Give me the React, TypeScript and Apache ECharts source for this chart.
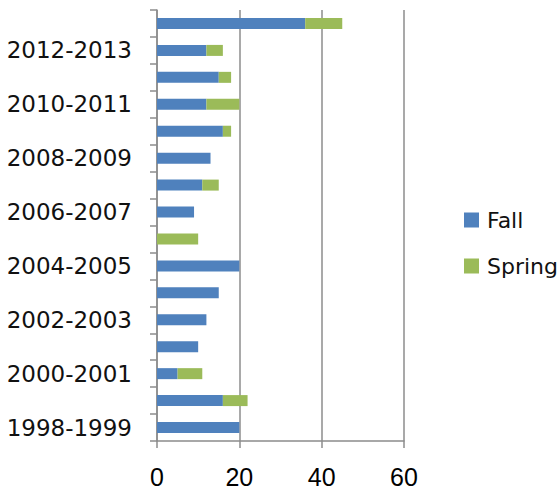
import React, { useEffect, useRef } from "react";
import * as echarts from "echarts";

const categories = [
  "1998-1999", "1999-2000", "2000-2001", "2001-2002", "2002-2003", "2003-2004",
  "2004-2005", "2005-2006", "2006-2007", "2007-2008", "2008-2009", "2009-2010",
  "2010-2011", "2011-2012", "2012-2013", "2013-2014",
];
const fallValues = [20, 16, 5, 10, 12, 15, 20, 0, 9, 11, 13, 16, 12, 15, 12, 36];
const springValues = [0, 6, 6, 0, 0, 0, 0, 10, 0, 4, 0, 2, 8, 3, 4, 9];
const xTicks = { min: 0, max: 60, interval: 20 };

export default function App() {
  const ref = useRef<HTMLDivElement>(null);
  useEffect(() => {
    document.body.style.margin = "0";
    const chart = echarts.init(ref.current!, null, { renderer: "svg" });
    chart.setOption({
      animation: false,
      backgroundColor: "#ffffff",
      grid: { left: 157, right: 156, top: 10, bottom: 47, containLabel: false },
      legend: {
        orient: "vertical",
        left: 459,
        top: 204,
        itemWidth: 15,
        itemHeight: 15,
        itemGap: 24,
        icon: "rect",
        textStyle: { fontFamily: "DejaVu Sans", fontSize: 22, color: "#111111", padding: [0, 0, 0, 3] },
        data: ["Fall", "Spring"],
      },
      xAxis: {
        type: "value",
        min: xTicks.min,
        max: xTicks.max,
        interval: xTicks.interval,
        axisLine: { show: true, lineStyle: { color: "#8c8c8c", width: 1.5 } },
        axisTick: { show: true, length: 7, lineStyle: { color: "#8c8c8c", width: 1.5 } },
        splitLine: { show: true, lineStyle: { color: "#8c8c8c", width: 1.5 } },
        axisLabel: {
          margin: 23,
          fontFamily: "'Liberation Sans Narrow', 'Liberation Sans', sans-serif",
          fontSize: 25,
          color: "#000000",
        },
      },
      yAxis: {
        type: "category",
        data: categories,
        boundaryGap: true,
        axisLine: { show: true, lineStyle: { color: "#8c8c8c", width: 1.5 } },
        axisTick: { show: true, interval: 0, length: 7, lineStyle: { color: "#8c8c8c", width: 1.5 } },
        axisLabel: {
          interval: 1,
          margin: 25,
          fontFamily: "DejaVu Sans",
          fontSize: 23,
          color: "#111111",
        },
      },
      series: [
        {
          name: "Fall",
          type: "bar",
          stack: "total",
          data: fallValues,
          barWidth: 11,
          itemStyle: { color: "#4F81BD" },
        },
        {
          name: "Spring",
          type: "bar",
          stack: "total",
          data: springValues,
          barWidth: 11,
          itemStyle: { color: "#9BBB59" },
        },
      ],
    });
    return () => chart.dispose();
  }, []);
  return <div ref={ref} style={{ width: 560, height: 489 }} />;
}
